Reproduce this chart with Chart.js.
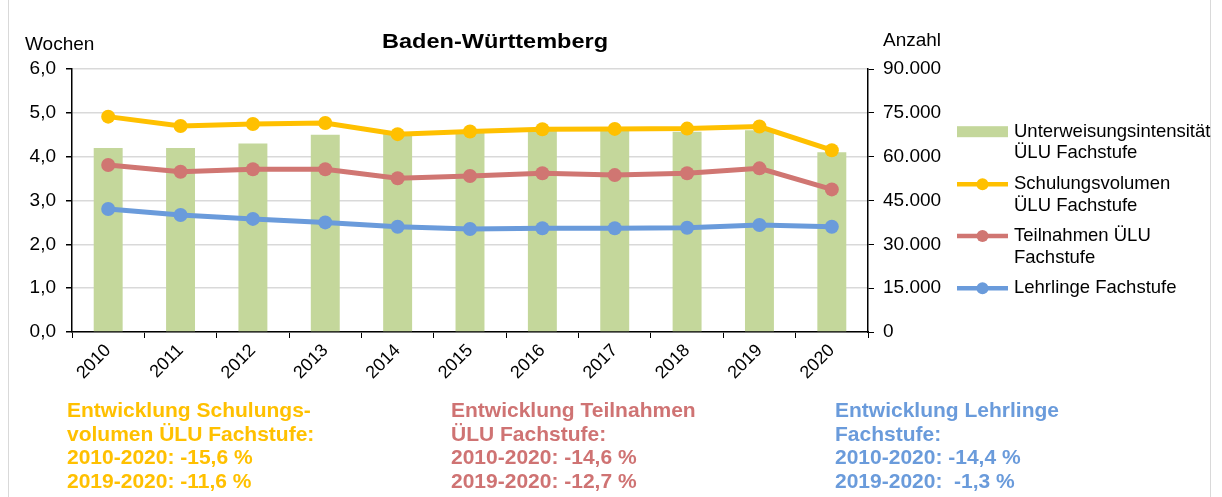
<!DOCTYPE html>
<html>
<head>
<meta charset="utf-8">
<script src="https://cdn.jsdelivr.net/npm/chart.js@4/dist/chart.umd.min.js"></script>
<style>
  html,body{margin:0;padding:0;background:#fff;}
  #wrap{position:relative;width:1222px;height:497px;overflow:hidden;font-family:"Liberation Sans",Arial,sans-serif;}
  #frame{position:absolute;left:8px;top:0;width:1203px;height:497px;border-left:1px solid #d9d9d9;border-right:1px solid #d9d9d9;box-sizing:border-box;}
  canvas{position:absolute;left:0;top:0;}
  .t{position:absolute;white-space:nowrap;color:#000;}
  #title{left:382px;top:29px;font-size:21px;font-weight:bold;transform:scaleX(1.12);transform-origin:0 0;}
  #yl{left:25px;top:33px;font-size:19px;}
  #yr{left:883px;top:29px;font-size:19px;}
  .blk{position:absolute;top:398px;font-family:"Liberation Sans",Arial,sans-serif;font-weight:bold;font-size:21px;line-height:23.6px;white-space:nowrap;}
</style>
</head>
<body>
<div id="wrap">
  <div id="frame"></div>
  <canvas id="c" width="1222" height="497"></canvas>
  <div class="t" id="title">Baden-Württemberg</div>
  <div class="t" id="yl">Wochen</div>
  <div class="t" id="yr">Anzahl</div>
  <div class="blk" style="left:67px;color:#FFC000">Entwicklung Schulungs-<br>volumen ÜLU Fachstufe:<br>2010-2020: -15,6 %<br>2019-2020: -11,6 %</div>
  <div class="blk" style="left:451px;color:#CF7373">Entwicklung Teilnahmen<br>ÜLU Fachstufe:<br>2010-2020: -14,6 %<br>2019-2020: -12,7 %</div>
  <div class="blk" style="left:835px;color:#6A9BDB">Entwicklung Lehrlinge<br>Fachstufe:<br>2010-2020: -14,4 %<br>2019-2020: &nbsp;-1,3 %</div>
</div>
<script>
const years = ["2010","2011","2012","2013","2014","2015","2016","2017","2018","2019","2020"];
const intensitaet = [4.2, 4.2, 4.3, 4.5, 4.55, 4.57, 4.6, 4.6, 4.57, 4.6, 4.1];
const schulungsvolumen = [73700, 70500, 71200, 71500, 67700, 68600, 69400, 69500, 69600, 70300, 62200];
const teilnahmen = [57150, 54850, 55700, 55700, 52600, 53400, 54300, 53700, 54300, 56000, 48800];
const lehrlinge = [42100, 40050, 38700, 37500, 36000, 35250, 35500, 35500, 35700, 36600, 36000];
const leftTicks = [0,1,2,3,4,5,6];
const rightTicks = [0,15000,30000,45000,60000,75000,90000];

const seriesLabels = [
  ["Unterweisungsintensität","ÜLU Fachstufe"],
  ["Schulungsvolumen","ÜLU Fachstufe"],
  ["Teilnahmen ÜLU","Fachstufe"],
  ["Lehrlinge Fachstufe"]
];
const colors = {green:"#C4D79B", yellow:"#FFC000", red:"#D07672", blue:"#6A9BDB"};

const legendPlugin = {
  id:"customLegend",
  afterDraw(chart){
    const ctx = chart.ctx;
    const x0 = 957, x1 = 1008, tx = 1014;
    const rows = [131.7, 184.3, 236, 288.3];
    ctx.save();
    ctx.font = "18.5px 'Liberation Sans', Arial, sans-serif";
    ctx.textBaseline = "middle";
    ctx.fillStyle = "#000";
    chart.data.datasets.forEach((ds, i) => {
      const y = rows[i];
      if (ds.type === "bar") {
        ctx.fillStyle = ds.backgroundColor;
        ctx.fillRect(x0, y - 5.5, x1 - x0, 11);
      } else {
        ctx.strokeStyle = ds.borderColor;
        ctx.lineWidth = 4.5;
        ctx.beginPath(); ctx.moveTo(x0, y); ctx.lineTo(x1, y); ctx.stroke();
        ctx.fillStyle = ds.borderColor;
        ctx.beginPath(); ctx.arc((x0 + x1) / 2, y, 6, 0, Math.PI * 2); ctx.fill();
      }
      ctx.fillStyle = "#000";
      seriesLabels[i].forEach((line, k) => ctx.fillText(line, tx, y + k * 21.5));
    });
    ctx.restore();
  }
};

const fmtLeft = v => v.toFixed(1).replace(".", ",");
const fmtRight = v => v === 0 ? "0" : v.toLocaleString("de-DE");
const tickFont = {size:19, family:"'Liberation Sans', Arial, sans-serif"};

new Chart(document.getElementById("c"), {
  data:{
    labels: years,
    datasets:[
      {type:"bar", label:seriesLabels[0].join(" "), data:intensitaet, yAxisID:"y", backgroundColor:colors.green, barPercentage:0.4, categoryPercentage:1, order:5},
      {type:"line", label:seriesLabels[1].join(" "), data:schulungsvolumen, yAxisID:"y2", borderColor:colors.yellow, backgroundColor:colors.yellow, borderWidth:5, pointRadius:7, pointBackgroundColor:colors.yellow, pointBorderWidth:0, order:3},
      {type:"line", label:seriesLabels[2].join(" "), data:teilnahmen, yAxisID:"y2", borderColor:colors.red, backgroundColor:colors.red, borderWidth:5, pointRadius:7, pointBackgroundColor:colors.red, pointBorderWidth:0, order:2},
      {type:"line", label:seriesLabels[3].join(" "), data:lehrlinge, yAxisID:"y2", borderColor:colors.blue, backgroundColor:colors.blue, borderWidth:5, pointRadius:7, pointBackgroundColor:colors.blue, pointBorderWidth:0, order:1}
    ]
  },
  options:{
    responsive:false,
    animation:false,
    layout:{padding:{top:69,left:0,right:0,bottom:0}},
    plugins:{legend:{display:false}, tooltip:{enabled:false}},
    scales:{
      x:{
        offset:true,
        grid:{display:true, drawOnChartArea:false, offset:true, tickLength:6, tickColor:"#000", color:"#000"},
        border:{color:"#000", width:1.5},
        ticks:{color:"#000", font:{size:18, family:"'Liberation Sans', Arial, sans-serif"}, maxRotation:45, minRotation:45, padding:2},
        afterFit(s){ s.height = 497 - 332; }
      },
      y:{
        position:"left", min:0, max:6,
        afterBuildTicks(s){ s.ticks = leftTicks.map(v => ({value:v})); },
        grid:{color:"#d9d9d9", lineWidth:1.5, tickColor:"#000", tickLength:6},
        border:{color:"#000", width:1.5},
        ticks:{color:"#000", font:tickFont, padding:10, callback:fmtLeft},
        afterFit(s){ s.width = 72; }
      },
      y2:{
        position:"right", min:0, max:90000,
        afterBuildTicks(s){ s.ticks = rightTicks.map(v => ({value:v})); },
        grid:{drawOnChartArea:false, tickColor:"#000", tickLength:6},
        border:{color:"#000", width:1.5},
        ticks:{color:"#000", font:tickFont, padding:9, callback:fmtRight},
        afterFit(s){ s.width = 1222 - 868; }
      }
    }
  },
  plugins:[legendPlugin]
});
</script>
</body>
</html>
